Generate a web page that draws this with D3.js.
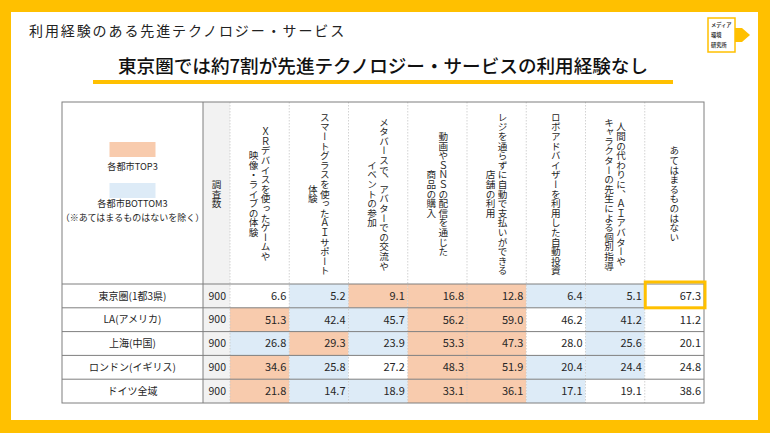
<!DOCTYPE html>
<html><head><meta charset="utf-8">
<script src="https://cdn.jsdelivr.net/npm/d3@7"></script>
<style>
html,body{margin:0;padding:0;background:#FFC000;}
svg{display:block;font-family:"Noto Sans CJK JP","Noto Sans",sans-serif;}
</style></head>
<body>
<svg id="chart" width="770" height="433"></svg>
<script>
const title = "利用経験のある先進テクノロジー・サービス";
const subtitle = "東京圏では約7割が先進テクノロジー・サービスの利用経験なし";
const cities = ["東京圏(1都3県)", "LA(アメリカ)", "上海(中国)", "ロンドン(イギリス)", "ドイツ全域"];
const sampleSizes = [900, 900, 900, 900, 900];
const services = [
  ["ＸＲデバイスを使ったゲームや", "映像・ライブの体験"],
  ["スマートグラスを使ったＡＩサポート", "体験"],
  ["メタバースで、アバターでの交流や", "イベントの参加"],
  ["動画やＳＮＳの配信を通じた", "商品の購入"],
  ["レジを通らずに自動で支払いができる", "店舗の利用"],
  ["ロボアドバイザーを利用した自動投資"],
  ["人間の代わりに、ＡＩアバターや", "キャラクターの先生による個別指導"],
  ["あてはまるものはない"]
];
const tokyo    = [6.6, 5.2, 9.1, 16.8, 12.8, 6.4, 5.1, 67.3];
const la       = [51.3, 42.4, 45.7, 56.2, 59.0, 46.2, 41.2, 11.2];
const shanghai = [26.8, 29.3, 23.9, 53.3, 47.3, 28.0, 25.6, 20.1];
const london   = [34.6, 25.8, 27.2, 48.3, 51.9, 20.4, 24.4, 24.8];
const germany  = [21.8, 14.7, 18.9, 33.1, 36.1, 17.1, 19.1, 38.6];
const values = [tokyo, la, shanghai, london, germany];
const legendTop = "各都市TOP3";
const legendBottom = ["各都市BOTTOM3", "（※あてはまるものはないを除く）"];
const sampleHeader = "調査数";

const svg = d3.select("#chart");
const YEL = "#FFC000", ORANGE = "#F8CBAD", BLUE = "#DDEBF7", GRAY = "#F2F2F2", LINE = "#7F7F7F", TXT = "#262626";

// frame
svg.append("rect").attr("x",0).attr("y",0).attr("width",770).attr("height",433).attr("fill",YEL);
svg.append("rect").attr("x",11).attr("y",12).attr("width",747).attr("height",408).attr("fill","#fff");

// titles
svg.append("text").attr("x",29).attr("y",36).attr("font-size",14).attr("letter-spacing",1.9)
  .attr("fill","#222").text(title);
svg.append("rect").attr("x",93).attr("y",80).attr("width",580).attr("height",4).attr("fill",YEL);
svg.append("text").attr("x",383).attr("y",73).attr("text-anchor","middle").attr("font-size",18.6)
  .attr("font-weight",500).attr("fill","#111").text(subtitle);

// logo
const lg = svg.append("g");
lg.append("rect").attr("x",708).attr("y",18).attr("width",27).attr("height",34).attr("fill","#fff").attr("stroke",YEL).attr("stroke-width",1.5);
lg.append("polygon").attr("points","735,28 742,28 750,35 742,42 735,42").attr("fill",YEL);
["メディア","環境","研究所"].forEach((t,i)=>{
  lg.append("text").attr("x",711).attr("y",27+i*10).attr("font-size",5.2).attr("font-weight",700).attr("fill","#333").text(t);
});

// table geometry
const tableL = 62, labelR = 203, sampleR = 230, tableR = 704, headT = 102, headB = 284, tableB = 403;
const x = d3.scaleBand().domain(d3.range(services.length)).range([sampleR, tableR]);
const y = d3.scaleBand().domain(d3.range(cities.length)).range([headB, tableB]);

// cell colors: top3 / bottom3 per row among first 7 columns
function cellColor(r, c) {
  if (c >= 7) return "#fff";
  const row = values[r].slice(0, 7);
  const sorted = row.slice().sort((a,b)=>b-a);
  const v = row[c];
  if (v >= sorted[2]) return ORANGE;
  if (v <= sorted[4]) return BLUE;
  return "#fff";
}

// sample column background
svg.append("rect").attr("x",labelR).attr("y",headT).attr("width",sampleR-labelR).attr("height",tableB-headT).attr("fill",GRAY);

// data cells
const cells = [];
values.forEach((row,r)=>row.forEach((v,c)=>cells.push({r,c,v})));
svg.append("g").selectAll("rect").data(cells).join("rect")
  .attr("x",d=>x(d.c)).attr("y",d=>y(d.r)).attr("width",x.bandwidth()).attr("height",y.bandwidth())
  .attr("fill",d=>cellColor(d.r,d.c));

// dotted column separators
svg.append("g").selectAll("line").data(d3.range(services.length)).join("line")
  .attr("x1",d=>x(d)).attr("x2",d=>x(d)).attr("y1",headT).attr("y2",tableB)
  .attr("stroke","#C8C8C8").attr("stroke-width",0.8).attr("stroke-dasharray","1.5,1.5");

// row lines
svg.append("g").selectAll("line").data(d3.range(cities.length)).join("line")
  .attr("x1",tableL).attr("x2",tableR).attr("y1",d=>y(d)).attr("y2",d=>y(d))
  .attr("stroke",LINE).attr("stroke-width",1);
// label/sample separator
svg.append("line").attr("x1",labelR).attr("x2",labelR).attr("y1",headT).attr("y2",tableB).attr("stroke",LINE).attr("stroke-width",1);
// outer border
svg.append("rect").attr("x",tableL).attr("y",headT).attr("width",tableR-tableL).attr("height",tableB-headT)
  .attr("fill","none").attr("stroke",LINE).attr("stroke-width",1);

// header texts (vertical)
const headCY = (headT + headB) / 2 + 1;
const lineGap = 12;
services.forEach((lines,c)=>{
  const cx = x(c) + x.bandwidth()/2;
  const n = lines.length;
  lines.forEach((t,i)=>{
    const lx = cx + ((n-1)/2 - i) * lineGap;
    svg.append("text").attr("x",lx).attr("y",headCY).attr("text-anchor","middle")
      .style("writing-mode","vertical-rl").attr("font-size",9.6).attr("fill",TXT).text(t);
  });
});
svg.append("text").attr("x",(labelR+sampleR)/2).attr("y",headCY).attr("text-anchor","middle")
  .style("writing-mode","vertical-rl").attr("font-size",9.6).attr("fill",TXT).text(sampleHeader);

// legend
const lcx = (tableL + labelR)/2;
svg.append("rect").attr("x",lcx-23).attr("y",142).attr("width",46).attr("height",15).attr("fill",ORANGE);
svg.append("text").attr("x",lcx).attr("y",170).attr("text-anchor","middle").attr("font-size",9.2).attr("fill",TXT).text(legendTop);
svg.append("rect").attr("x",lcx-23).attr("y",183).attr("width",46).attr("height",15).attr("fill",BLUE);
svg.append("text").attr("x",lcx).attr("y",207).attr("text-anchor","middle").attr("font-size",9.2).attr("fill",TXT).text(legendBottom[0]);
svg.append("text").attr("x",lcx).attr("y",221).attr("text-anchor","middle").attr("font-size",9).attr("fill",TXT).text(legendBottom[1]);

// row labels and sample sizes
cities.forEach((name,r)=>{
  const cy = y(r) + y.bandwidth()/2;
  svg.append("text").attr("x",lcx).attr("y",cy).attr("dy","0.36em").attr("text-anchor","middle")
    .attr("font-size",10).attr("fill",TXT).text(name);
  svg.append("text").attr("x",sampleR-4).attr("y",cy).attr("dy","0.36em").attr("text-anchor","end")
    .attr("font-size",10.5).attr("fill",TXT).text(sampleSizes[r]);
});

// values
svg.append("g").selectAll("text").data(cells).join("text")
  .attr("x",d=>x(d.c)+x.bandwidth()-3).attr("y",d=>y(d.r)+y.bandwidth()/2).attr("dy","0.36em")
  .attr("text-anchor","end").attr("font-size",11).attr("fill",TXT).text(d=>d.v.toFixed(1));

// highlight tokyo "none"
svg.append("rect").attr("x",x(7)+0.5).attr("y",y(0)-2).attr("width",x.bandwidth()+0.5).attr("height",y.bandwidth()+2)
  .attr("fill","none").attr("stroke",YEL).attr("stroke-width",3);
</script>
</body></html>
